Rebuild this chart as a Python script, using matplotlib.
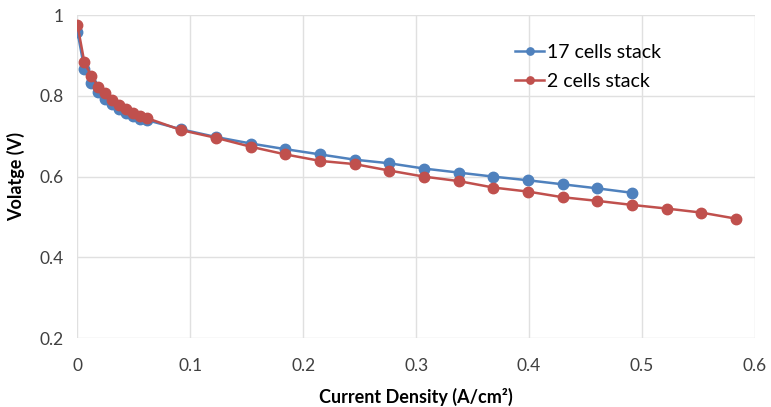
import matplotlib
matplotlib.use('Agg')
import matplotlib.pyplot as plt

# current density (A/cm2)
x_17 = [0, 0.0061, 0.0123, 0.0184, 0.0246, 0.0307, 0.0368, 0.0430, 0.0491, 0.0553, 0.0614,
        0.0921, 0.1228, 0.1535, 0.1842, 0.2149, 0.2456, 0.2763, 0.3070, 0.3377, 0.3684,
        0.3991, 0.4298, 0.4605, 0.4912]
v_17 = [0.959, 0.866, 0.831, 0.809, 0.793, 0.779, 0.768, 0.758, 0.750, 0.743, 0.740,
        0.717, 0.698, 0.682, 0.668, 0.655, 0.642, 0.633, 0.620, 0.610, 0.600,
        0.591, 0.581, 0.571, 0.560]

x_2 = [0, 0.0061, 0.0123, 0.0184, 0.0246, 0.0307, 0.0368, 0.0430, 0.0491, 0.0553, 0.0614,
       0.0921, 0.1228, 0.1535, 0.1842, 0.2149, 0.2456, 0.2763, 0.3070, 0.3377, 0.3684,
       0.3991, 0.4298, 0.4605, 0.4912, 0.5219, 0.5526, 0.5833]
v_2 = [0.975, 0.883, 0.849, 0.823, 0.806, 0.790, 0.778, 0.768, 0.758, 0.750, 0.745,
       0.715, 0.696, 0.674, 0.655, 0.639, 0.631, 0.615, 0.600, 0.589, 0.573,
       0.563, 0.549, 0.540, 0.530, 0.521, 0.511, 0.496]

blue = '#4F81BD'
red = '#C0504D'

fig = plt.figure(figsize=(7.71, 4.07), dpi=100)
ax = fig.add_axes([0.1005, 0.169, 0.8785, 0.794])

ax.plot(x_17, v_17, '-o', color=blue, lw=1.8, ms=7.5, label='17 cells stack', zorder=3)
ax.plot(x_2, v_2, '-o', color=red, lw=1.8, ms=7.5, label='2 cells stack', zorder=4)

ax.set_xlim(0, 0.6)
ax.set_ylim(0.2, 1.0)
ax.set_xticks([0, 0.1, 0.2, 0.3, 0.4, 0.5, 0.6])
ax.set_xticklabels(['0', '0.1', '0.2', '0.3', '0.4', '0.5', '0.6'])
ax.set_yticks([0.2, 0.4, 0.6, 0.8, 1.0])
ax.set_yticklabels(['0.2', '0.4', '0.6', '0.8', '1'])

ax.grid(True, color='#E0E0E0', linewidth=1.0)
ax.set_axisbelow(True)
for s in ax.spines.values():
    s.set_visible(False)
ax.tick_params(length=0, labelsize=12.5, labelcolor='#404040')
ax.tick_params(axis='x', pad=14)
ax.tick_params(axis='y', pad=10)
for t in ax.get_xticklabels() + ax.get_yticklabels():
    t.set_fontfamily('Lato')

ax.set_xlabel('Current Density (A/cm²)', fontsize=13, fontweight='bold',
              fontfamily='Lato', labelpad=10)
ax.set_ylabel('Volatge (V)', fontsize=13, fontweight='bold', fontfamily='Lato', labelpad=10)

leg = ax.legend(loc='upper left', bbox_to_anchor=(0.62, 0.965), frameon=False,
                prop={'family': 'Lato', 'size': 14}, handlelength=1.5,
                handletextpad=0.15, labelspacing=0.6, markerscale=0.7)

fig.savefig('out.png', dpi=100)
